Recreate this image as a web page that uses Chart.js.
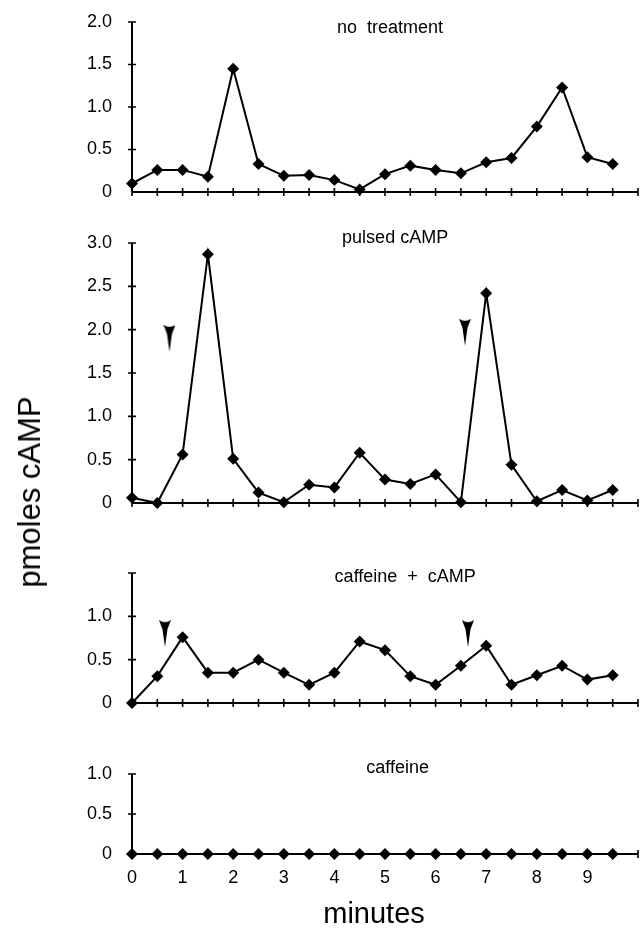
<!DOCTYPE html>
<html>
<head>
<meta charset="utf-8">
<script src="https://cdn.jsdelivr.net/npm/chart.js@4.4.1/dist/chart.umd.min.js"></script>
<style>
  html, body { margin: 0; padding: 0; background: #fff; }
  body { width: 640px; height: 936px; position: relative; overflow: hidden;
         font-family: "Liberation Sans", Arial, Helvetica, sans-serif; color: #000; }
  canvas { position: absolute; left: 0; }
  #ylabel { position: absolute; left: 30px; top: 492px; transform: translate(-50%, -50%) rotate(-90deg);
            font-size: 31px; white-space: nowrap; }
  #xlabel { position: absolute; left: 374px; top: 913px; transform: translate(-50%, -50%);
            font-size: 29px; white-space: nowrap; }
</style>
</head>
<body>
<canvas id="p1" width="640" height="205" style="top:0px"></canvas>
<canvas id="p2" width="640" height="300" style="top:215px"></canvas>
<canvas id="p3" width="640" height="160" style="top:555px"></canvas>
<canvas id="p4" width="640" height="150" style="top:750px"></canvas>
<div id="ylabel">pmoles cAMP</div>
<div id="xlabel">minutes</div>

<script>
// sampling times (minutes)
const minutes = [0, 0.5, 1, 1.5, 2, 2.5, 3, 3.5, 4, 4.5, 5, 5.5, 6, 6.5, 7, 7.5, 8, 8.5, 9, 9.5];

// pmoles cAMP per panel
const noTreatment = [0.10, 0.26, 0.26, 0.18, 1.45, 0.33, 0.19, 0.20, 0.14, 0.03,
                     0.21, 0.31, 0.26, 0.22, 0.35, 0.40, 0.77, 1.23, 0.41, 0.33];
const pulsedCamp = [0.06, 0.00, 0.56, 2.87, 0.51, 0.12, 0.01, 0.21, 0.18, 0.58,
                    0.27, 0.22, 0.33, 0.01, 2.42, 0.44, 0.02, 0.15, 0.03, 0.15];
const caffeineCamp = [0.00, 0.31, 0.76, 0.35, 0.35, 0.50, 0.35, 0.21, 0.35, 0.71,
                      0.61, 0.31, 0.21, 0.43, 0.66, 0.21, 0.32, 0.43, 0.27, 0.32];
const caffeine = [0, 0, 0, 0, 0, 0, 0, 0, 0, 0, 0, 0, 0, 0, 0, 0, 0, 0, 0, 0];

// cAMP pulse arrowheads (time, level)
const pulseTimes2 = [0.74, 6.58];
const pulseLevels2 = [1.90, 1.97];
const pulseTimes3 = [0.65, 6.64];
const pulseLevels3 = [0.80, 0.80];

const xTickLabels = ['0', '1', '2', '3', '4', '5', '6', '7', '8', '9'];

const FONT = '"Liberation Sans", Arial, Helvetica, sans-serif';
const FONT_SIZE = 18;

function makeArrow() {
  const c = document.createElement('canvas');
  c.width = 12; c.height = 27;
  const g = c.getContext('2d');
  g.fillStyle = '#000';
  g.beginPath();
  g.moveTo(0, 0);
  g.quadraticCurveTo(6, 4, 12, 0);
  g.lineTo(8.5, 9);
  g.lineTo(6, 27);
  g.lineTo(3.5, 9);
  g.closePath();
  g.fill();
  return c;
}
const arrowImg = makeArrow();

// axis lines with ticks crossing them
const crossAxes = {
  id: 'crossAxes',
  beforeDatasetsDraw(chart) {
    const { ctx, scales: { x, y } } = chart;
    const x0 = x.getPixelForValue(0), x1 = x.getPixelForValue(10);
    const y0 = y.getPixelForValue(0), y1 = y.getPixelForValue(y.max);
    ctx.save();
    ctx.strokeStyle = '#000';
    ctx.lineWidth = 2;
    ctx.beginPath();
    ctx.moveTo(x0, y0); ctx.lineTo(x1, y0);
    ctx.moveTo(x0, y0); ctx.lineTo(x0, y1);
    ctx.stroke();
    ctx.lineWidth = 1.6;
    ctx.beginPath();
    x.ticks.forEach(t => {
      const px = x.getPixelForValue(t.value);
      ctx.moveTo(px, y0 - 4); ctx.lineTo(px, y0 + 4);
    });
    y.ticks.forEach(t => {
      if (t.value === 0) return;
      const py = y.getPixelForValue(t.value);
      ctx.moveTo(x0 - 4, py); ctx.lineTo(x0 + 4, py);
    });
    ctx.stroke();
    ctx.restore();
  }
};

const panelTitle = {
  id: 'panelTitle',
  afterDraw(chart, args, opts) {
    const { ctx, scales: { x }, chartArea } = chart;
    ctx.save();
    ctx.fillStyle = '#000';
    ctx.font = FONT_SIZE + 'px ' + FONT;
    ctx.textAlign = 'center';
    ctx.textBaseline = 'middle';
    ctx.fillText(opts.text, x.getPixelForValue(opts.at), chartArea.top + opts.dy);
    ctx.restore();
  }
};

function renderPanel(id, values, opts) {
  const datasets = [{
    data: minutes.map((m, i) => ({ x: m, y: values[i] })),
    borderColor: '#000',
    borderWidth: 2,
    pointStyle: 'rectRot',
    pointRadius: 6,
    pointBackgroundColor: '#000',
    pointBorderColor: '#000',
    pointBorderWidth: 0,
    tension: 0,
    clip: false
  }];
  if (opts.pulseTimes) {
    datasets.push({
      data: opts.pulseTimes.map((t, i) => ({ x: t, y: opts.pulseLevels[i] })),
      showLine: false,
      pointStyle: arrowImg,
      pointRadius: 5,
      clip: false
    });
  }
  new Chart(document.getElementById(id), {
    type: 'line',
    data: { datasets },
    plugins: [crossAxes, panelTitle],
    options: {
      responsive: false,
      animation: false,
      events: [],
      layout: { autoPadding: false, padding: { top: opts.padTop, right: 2, left: 0, bottom: 0 } },
      plugins: {
        legend: { display: false },
        tooltip: { enabled: false },
        panelTitle: { text: opts.title, at: opts.titleAt, dy: opts.titleDy }
      },
      scales: {
        x: {
          type: 'linear', min: 0, max: 10,
          grid: { display: false, drawTicks: false },
          border: { display: false },
          ticks: {
            stepSize: 0.5, autoSkip: false, maxRotation: 0,
            display: !!opts.showX,
            padding: 13,
            color: '#000',
            font: { family: FONT, size: FONT_SIZE },
            callback: v => (Number.isInteger(v) && v < xTickLabels.length) ? xTickLabels[v] : ''
          },
          afterFit: s => { s.height = opts.xHeight; s.paddingLeft = 0; s.paddingRight = 0; }
        },
        y: {
          min: 0, max: opts.yMax,
          grid: { display: false, drawTicks: false },
          border: { display: false },
          ticks: {
            stepSize: 0.5, autoSkip: false,
            padding: 20,
            color: '#000',
            font: { family: FONT, size: FONT_SIZE },
            callback: v => v === 0 ? '0' : (opts.hideTop && v === opts.yMax ? '' : v.toFixed(1))
          },
          afterFit: s => { s.width = 132; s.paddingTop = 0; s.paddingBottom = 0; }
        }
      }
    }
  });
}

renderPanel('p1', noTreatment, { yMax: 2.0, padTop: 22, xHeight: 13, title: 'no  treatment', titleAt: 5.1, titleDy: 6 });
renderPanel('p2', pulsedCamp, { yMax: 3.0, padTop: 28, xHeight: 12, title: 'pulsed cAMP', titleAt: 5.2, titleDy: -5,
  pulseTimes: pulseTimes2, pulseLevels: pulseLevels2 });
renderPanel('p3', caffeineCamp, { yMax: 1.5, hideTop: true, padTop: 18, xHeight: 12, title: 'caffeine  +  cAMP', titleAt: 5.4, titleDy: 4,
  pulseTimes: pulseTimes3, pulseLevels: pulseLevels3 });
renderPanel('p4', caffeine, { yMax: 1.0, padTop: 24, xHeight: 46, showX: true, title: 'caffeine', titleAt: 5.25, titleDy: -6 });
</script>
</body>
</html>
